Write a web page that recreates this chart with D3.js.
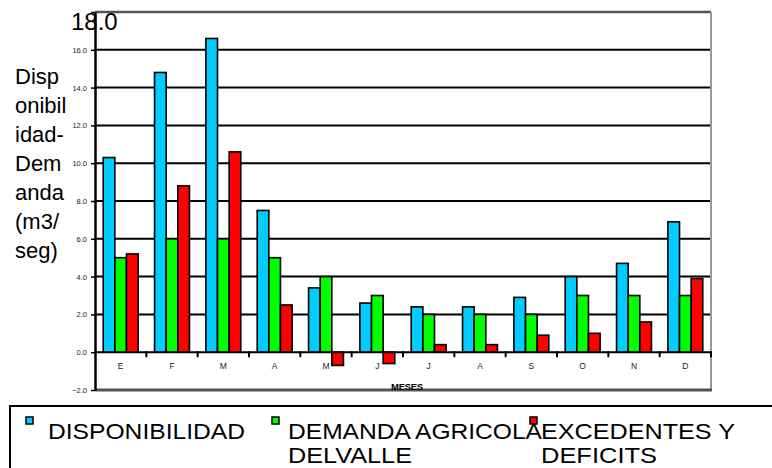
<!DOCTYPE html>
<html>
<head>
<meta charset="utf-8">
<script src="https://cdn.jsdelivr.net/npm/d3@7"></script>
<style>
  html, body { margin: 0; padding: 0; background: #fff; }
  svg { display: block; font-family: "Liberation Sans", Arial, sans-serif; }
</style>
</head>
<body>
<svg id="chart" width="772" height="468"></svg>
<script>
// Monthly water balance (m3/seg)
const months = ["E", "F", "M", "A", "M", "J", "J", "A", "S", "O", "N", "D"];
const disponibilidad = [10.3, 14.8, 16.6, 7.5, 3.4, 2.6, 2.4, 2.4, 2.9, 4.0, 4.7, 6.9];
const demanda        = [5.0, 6.0, 6.0, 5.0, 4.0, 3.0, 2.0, 2.0, 2.0, 3.0, 3.0, 3.0];
const excedentes     = [5.2, 8.8, 10.6, 2.5, -0.7, -0.6, 0.4, 0.4, 0.9, 1.0, 1.6, 3.9];

const seriesNames = ["DISPONIBILIDAD", "DEMANDA AGRICOLA DELVALLE", "EXCEDENTES Y DEFICITS"];
const seriesValues = [disponibilidad, demanda, excedentes];
const seriesColors = ["#00CCFF", "#00FF00", "#FF0000"];
const legendLines = [["DISPONIBILIDAD"], ["DEMANDA AGRICOLA", "DELVALLE"], ["EXCEDENTES Y", "DEFICITS"]];
const legendWidths = [[197], [254, 124], [194, 116]];

const yTicks = [-2, 0, 2, 4, 6, 8, 10, 12, 14, 16, 18];
const yTitle = ["Disp", "onibil", "idad-", "Dem", "anda", "(m3/", "seg)"];
const xTitle = "MESES";

const svg = d3.select("#chart");
const plot = { left: 95, right: 711, top: 12, bottom: 390 };

const x0 = d3.scaleBand().domain(d3.range(months.length)).range([plot.left, plot.right]).padding(0);
const bw = x0.bandwidth();
const x1 = d3.scaleBand().domain(d3.range(seriesNames.length)).range([bw * 0.16, bw * 0.84]).padding(0);
const y = d3.scaleLinear().domain([-2, 18]).range([plot.bottom, plot.top]);

// horizontal gridlines
svg.append("g").selectAll("line")
  .data(yTicks.filter(v => v > 0 && v < 18))
  .join("line")
  .attr("x1", plot.left).attr("x2", plot.right)
  .attr("y1", d => y(d)).attr("y2", d => y(d))
  .attr("stroke", "#000").attr("stroke-width", 2);

// frame: top, right, bottom
svg.append("line").attr("x1", plot.left).attr("x2", plot.right)
  .attr("y1", y(18)).attr("y2", y(18)).attr("stroke", "#555").attr("stroke-width", 2.5);
svg.append("line").attr("x1", plot.right).attr("x2", plot.right)
  .attr("y1", y(18)).attr("y2", y(-2)).attr("stroke", "#999").attr("stroke-width", 2);
svg.append("line").attr("x1", plot.left).attr("x2", plot.right + 1)
  .attr("y1", y(-2)).attr("y2", y(-2)).attr("stroke", "#555").attr("stroke-width", 3);

// bars
const groups = svg.append("g").selectAll("g")
  .data(months.map((m, i) => i))
  .join("g")
  .attr("transform", i => `translate(${x0(i)},0)`);

groups.selectAll("rect")
  .data(i => seriesValues.map((vals, s) => ({ s, v: vals[i] })))
  .join("rect")
  .attr("x", d => x1(d.s))
  .attr("width", x1.bandwidth())
  .attr("y", d => y(Math.max(0, d.v)))
  .attr("height", d => Math.abs(y(d.v) - y(0)))
  .attr("fill", d => seriesColors[d.s])
  .attr("stroke", "#000")
  .attr("stroke-width", 1.6);

// x axis on the zero line
const xAxis = svg.append("g")
  .attr("transform", `translate(0,${y(0)})`);
xAxis.append("line").attr("x1", plot.left).attr("x2", plot.right)
  .attr("stroke", "#000").attr("stroke-width", 2);
xAxis.selectAll("line.tk")
  .data(d3.range(1, months.length + 1))
  .join("line").attr("class", "tk")
  .attr("x1", i => plot.left + i * bw).attr("x2", i => plot.left + i * bw)
  .attr("y1", -1).attr("y2", 5)
  .attr("stroke", "#000").attr("stroke-width", 2);
xAxis.selectAll("text")
  .data(months)
  .join("text")
  .attr("x", (d, i) => x0(i) + bw / 2)
  .attr("y", 17)
  .attr("text-anchor", "middle")
  .attr("font-size", 8.5)
  .attr("fill", "#222")
  .text(d => d);

// x title
svg.append("text")
  .attr("x", 407).attr("y", 390)
  .attr("text-anchor", "middle")
  .attr("font-size", 9.5).attr("font-weight", "bold")
  .attr("letter-spacing", "-0.3")
  .text(xTitle);

// y axis
const yAxis = svg.append("g")
  .attr("transform", `translate(${plot.left},0)`)
  .call(d3.axisLeft(y).tickValues(yTicks).tickSize(4).tickSizeOuter(0).tickFormat(d3.format(".1f")));
yAxis.select(".domain").attr("stroke", "#000").attr("stroke-width", 2.5);
yAxis.selectAll(".tick line").attr("stroke", "#000").attr("stroke-width", 1.5);
yAxis.selectAll(".tick text")
  .attr("font-size", 7.5)
  .attr("font-family", "Liberation Sans, Arial, sans-serif")
  .attr("fill", "#222")
  .attr("x", -8);
yAxis.selectAll(".tick").filter(d => d === 18).select("text")
  .attr("font-size", 24)
  .attr("fill", "#000")
  .attr("text-anchor", "start")
  .attr("x", -24)
  .attr("dy", "0.72em");

// y title, wrapped over several lines
svg.append("text")
  .attr("font-size", 22)
  .attr("fill", "#000")
  .selectAll("tspan")
  .data(yTitle)
  .join("tspan")
  .attr("x", 15)
  .attr("y", (d, i) => 84 + i * 29)
  .text(d => d);

// legend
svg.append("rect")
  .attr("x", 10).attr("y", 406)
  .attr("width", 780).attr("height", 80)
  .attr("fill", "#fff").attr("stroke", "#000").attr("stroke-width", 2);

const legendX = [26, 272, 530];
const legendTextX = [48, 288, 541];
const leg = svg.append("g").selectAll("g")
  .data(seriesNames.map((n, i) => i))
  .join("g");
leg.append("text")
  .attr("font-size", 22)
  .attr("fill", "#000")
  .selectAll("tspan")
  .data(i => legendLines[i].map((t, k) => ({ t, i, k })))
  .join("tspan")
  .attr("x", d => legendTextX[d.i])
  .attr("y", d => 439 + d.k * 24)
  .attr("textLength", d => legendWidths[d.i][d.k])
  .attr("lengthAdjust", "spacingAndGlyphs")
  .text(d => d.t);
leg.append("rect")
  .attr("x", i => legendX[i]).attr("y", 417)
  .attr("width", 7).attr("height", 7)
  .attr("fill", i => seriesColors[i])
  .attr("stroke", "#000").attr("stroke-width", 1.5);
</script>
</body>
</html>
